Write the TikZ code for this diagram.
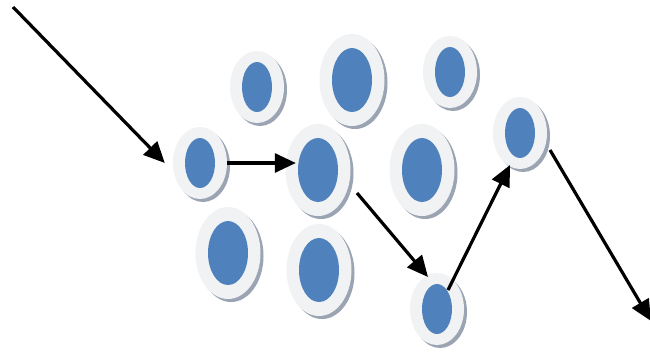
\documentclass[tikz,border=0pt]{standalone}
\usetikzlibrary{arrows.meta,shapes.geometric,shadows,calc}
\definecolor{ringfill}{HTML}{F1F2F4}
\definecolor{ringshade}{HTML}{9AA4B3}
\definecolor{coreblue}{HTML}{4F81BD}
\tikzset{
  ringsmall/.style={ellipse, inner sep=0pt, minimum width=54pt, minimum height=72pt,
    fill=ringfill, drop shadow={shadow xshift=3pt, shadow yshift=-3pt, fill=ringshade, opacity=1}},
  ringlarge/.style={ringsmall, minimum width=65pt, minimum height=92pt},
  coresmall/.style={ellipse, inner sep=0pt, minimum width=30pt, minimum height=50pt, fill=coreblue},
  corelarge/.style={coresmall, minimum width=40pt, minimum height=64pt},
  flow/.style={line width=3.2pt, -{Triangle[length=21pt,width=19pt]}}
}
\begin{document}
\begin{tikzpicture}[x=1pt, y=-1pt]
  \fill[white] (0,0) rectangle (650,357);
  \useasboundingbox (0,0) rectangle (650,357);

  % rings with their blue cores
  \node[ringsmall] (T1) at (257,87) {};  \node[coresmall] (T1c) at (T1) {};
  \node[ringlarge] (T2) at (352,80) {};  \node[corelarge] (T2c) at (T2) {};
  \node[ringsmall] (T3) at (450,72) {};  \node[coresmall] (T3c) at (T3) {};
  \node[ringsmall] (A)  at (200,163) {}; \node[coresmall] (Ac) at (A) {};
  \node[ringlarge] (B)  at (318,170) {}; \node[corelarge] (Bc) at (B) {};
  \node[ringlarge] (M1) at (422,170) {}; \node[corelarge] (M1c) at (M1) {};
  \node[ringsmall] (M2) at (520,133) {}; \node[coresmall] (M2c) at (M2) {};
  \node[ringlarge] (B1) at (228,253) {}; \node[corelarge] (B1c) at (B1) {};
  \node[ringlarge] (B2) at (319,270) {}; \node[corelarge] (B2c) at (B2) {};
  \node[ringsmall] (Bot) at (437,309) {}; \node[coresmall] (Botc) at (Bot) {};

  % entry and exit points of the path
  \coordinate (in0) at (13,7);
  \coordinate (out0) at (651,321);

  % the path through the rings
  \draw[flow] (in0) -- ($(A.west)+(-8,0)$);
  \draw[flow, shorten >=2pt] (A.east) -- (A.east -| Bc.west);
  \draw[flow] ($(B)+(39,23)$) -- ($(Bot)+(-9,-32)$);
  \draw[flow] ($(Bot)+(11,-19)$) -- ($(M2)+(-10,32)$);
  \draw[flow] ($(M2)+(30,17)$) -- (out0);
\end{tikzpicture}
\end{document}
